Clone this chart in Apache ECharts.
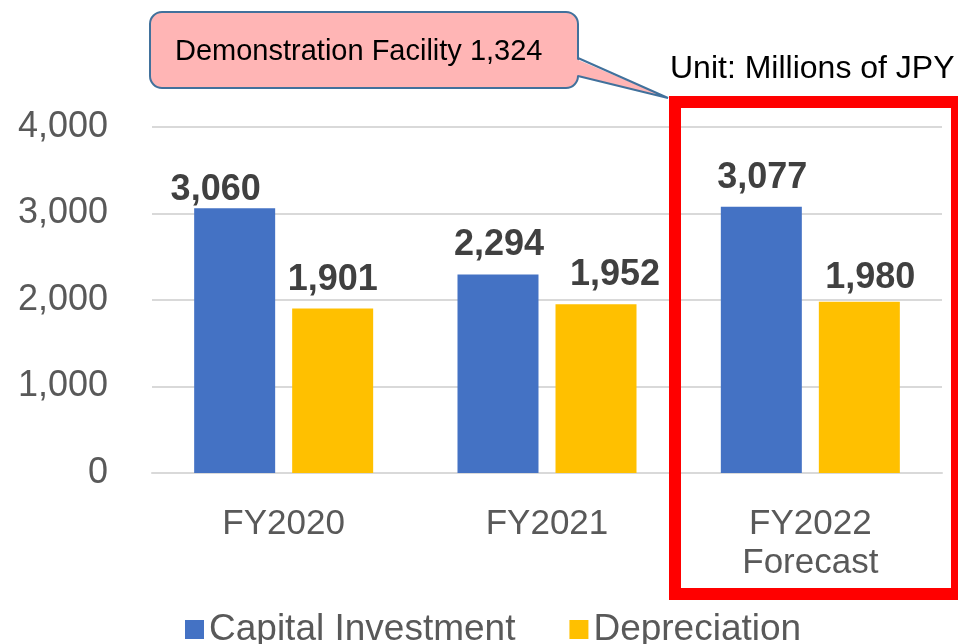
<!DOCTYPE html>
<html>
<head>
<meta charset="utf-8">
<script src="https://cdn.jsdelivr.net/npm/echarts@6/dist/echarts.min.js"></script>
<style>
  html, body { margin: 0; padding: 0; background: #fff; }
  #chart { width: 958px; height: 644px; }
</style>
</head>
<body>
<div id="chart"></div>
<script>
const categories = ['FY2020', 'FY2021', 'FY2022\nForecast']
const capitalInvestment = [3060, 2294, 3077]
const depreciation = [1901, 1952, 1980]
const yTicks = [0, 1000, 2000, 3000, 4000]

// ラベルの手動ずらし（元の図に合わせる）
const ciLabelShift = [[-19, 11], [1, 0], [1, 0]]
const depLabelShift = [[0, 1], [19, 0], [11, 5]]

const FONT = '"Liberation Sans", Arial, sans-serif'
const fmt = v => Number(v).toLocaleString('en-US')

const chart = echarts.init(document.getElementById('chart'))

const barLabel = {
  show: true,
  position: 'top',
  distance: 11,
  formatter: p => fmt(p.value),
  fontFamily: FONT,
  fontSize: 36,
  fontWeight: 'bold',
  color: '#404040'
}

const withShift = (values, shifts) =>
  values.map((v, i) => ({ value: v, label: { offset: shifts[i] } }))

const option = {
  animation: false,
  textStyle: { fontFamily: FONT },
  grid: { left: 152, right: 16, top: 127, bottom: 171 },
  legend: {
    top: 606,
    left: 180,
    itemWidth: 19,
    itemHeight: 19,
    itemGap: 54,
    icon: 'rect',
    textStyle: { fontFamily: FONT, fontSize: 37, color: '#595959' },
    data: ['Capital Investment', 'Depreciation']
  },
  xAxis: {
    type: 'category',
    data: categories,
    axisLine: { lineStyle: { color: '#d9d9d9', width: 2 } },
    axisTick: { show: false },
    axisLabel: {
      margin: 32,
      fontFamily: FONT,
      fontSize: 35,
      lineHeight: 39,
      color: '#595959'
    }
  },
  yAxis: {
    type: 'value',
    min: yTicks[0],
    max: yTicks[yTicks.length - 1],
    interval: 1000,
    axisLine: { show: false },
    axisTick: { show: false },
    splitLine: { lineStyle: { color: '#d9d9d9', width: 2 } },
    axisLabel: {
      margin: 44,
      formatter: v => fmt(v),
      fontFamily: FONT,
      fontSize: 36,
      color: '#595959'
    }
  },
  series: [
    {
      name: 'Capital Investment',
      type: 'bar',
      data: withShift(capitalInvestment, ciLabelShift),
      barWidth: 81,
      barGap: '21%',
      itemStyle: { color: '#4472c4' },
      label: barLabel
    },
    {
      name: 'Depreciation',
      type: 'bar',
      data: withShift(depreciation, depLabelShift),
      barWidth: 81,
      itemStyle: { color: '#ffc000' },
      label: barLabel
    }
  ],
  graphic: [
    // 吹き出し本体
    {
      type: 'rect',
      shape: { x: 150, y: 12, width: 428, height: 76, r: 12 },
      style: { fill: '#ffb5b5', stroke: '#41719c', lineWidth: 2 },
      z: 10
    },
    // 吹き出しのしっぽ
    {
      type: 'polygon',
      shape: { points: [[576, 59], [668, 98], [576, 75]] },
      style: { fill: '#ffb5b5' },
      z: 11
    },
    {
      type: 'polyline',
      shape: { points: [[578, 58], [668, 98], [578, 76]] },
      style: { fill: 'none', stroke: '#41719c', lineWidth: 2 },
      z: 12
    },
    {
      type: 'text',
      left: 175,
      top: 37,
      style: {
        text: 'Demonstration Facility 1,324',
        font: '29px ' + FONT,
        fill: '#000'
      },
      z: 13
    },
    {
      type: 'text',
      left: 670,
      top: 53,
      style: {
        text: 'Unit: Millions of JPY',
        font: '32px ' + FONT,
        fill: '#000'
      },
      z: 13
    },
    // 赤枠
    {
      type: 'rect',
      shape: { x: 675, y: 102, width: 282, height: 492 },
      style: { fill: 'none', stroke: '#ff0000', lineWidth: 12 },
      z: 14
    }
  ]
}

chart.setOption(option)
</script>
</body>
</html>
